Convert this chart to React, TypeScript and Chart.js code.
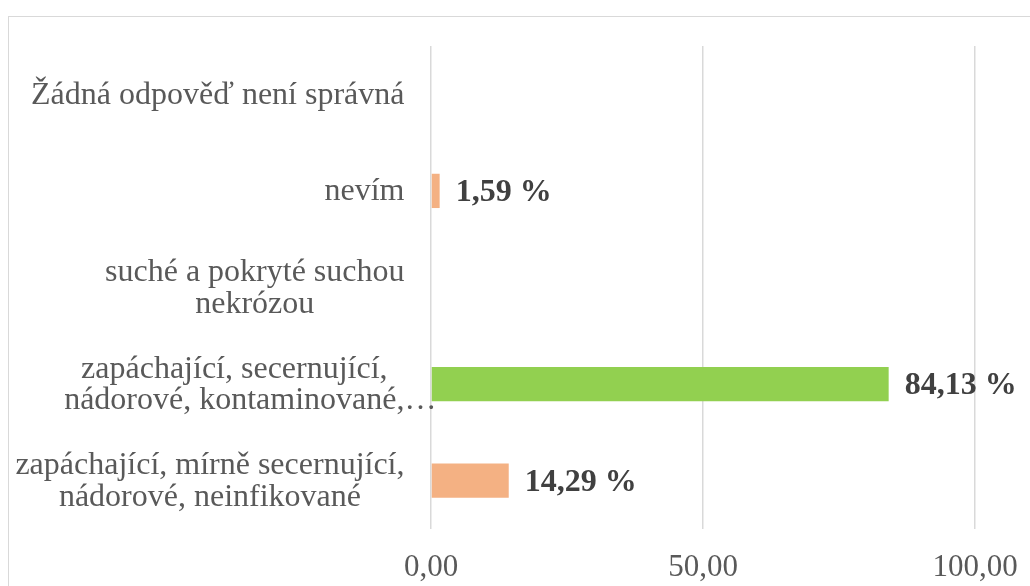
import React, { useEffect, useRef } from "react";
import { Chart, registerables } from "chart.js";

Chart.register(...registerables);

const categoryLines: string[][] = [
  ["Žádná odpověď není správná"],
  ["nevím"],
  ["suché a pokryté suchou", "nekrózou"],
  ["zapáchající, secernující,", "nádorové, kontaminované,…"],
  ["zapáchající, mírně secernující,", "nádorové, neinfikované"],
];
const categories: string[] = categoryLines.map((l) => l.join(" "));
const values: number[] = [0, 1.59, 0, 84.13, 14.29];
const barColors: string[] = ["#F4B183", "#F4B183", "#F4B183", "#92D050", "#F4B183"];
const xTicks: number[] = [0, 50, 100];

const FONT = "'Liberation Serif', 'Times New Roman', serif";
const fmt = (v: number) => v.toFixed(2).replace(".", ",");

const catLabelPlugin = {
  id: "catLabels",
  afterDraw(chart: any) {
    const ctx = chart.ctx;
    const ys = chart.scales.y;
    ctx.save();
    ctx.font = `32px ${FONT}`;
    ctx.fillStyle = "#595959";
    ctx.textBaseline = "middle";
    ctx.textAlign = "left";
    const lh = 31.5;
    const right = chart.chartArea.left - 26.5;
    categoryLines.forEach((lines, i) => {
      const cy = ys.getPixelForValue(i);
      const strip = (s: string) => s.replace(/…$/, "");
      const widths = lines.map((l) => ctx.measureText(strip(l)).width);
      const blockW = Math.max(...widths);
      const center = right - blockW / 2;
      const y0 = cy - ((lines.length - 1) * lh) / 2;
      lines.forEach((line, j) => {
        ctx.fillText(line, center - widths[j] / 2, y0 + j * lh + 1);
      });
    });
    ctx.restore();
  },
};

const valueLabelPlugin = {
  id: "valueLabels",
  afterDatasetsDraw(chart: any) {
    const ctx = chart.ctx;
    const meta = chart.getDatasetMeta(0);
    ctx.save();
    ctx.font = `bold 32px ${FONT}`;
    ctx.fillStyle = "#404040";
    ctx.textBaseline = "middle";
    ctx.textAlign = "left";
    meta.data.forEach((el: any, i: number) => {
      const v = values[i];
      if (!v) return;
      ctx.fillText(`${fmt(v)} %`, el.x + 16, el.y + 2);
    });
    ctx.restore();
  },
};

export default function App() {
  const ref = useRef<HTMLCanvasElement | null>(null);
  useEffect(() => {
    if (!ref.current) return;
    const chart = new Chart(ref.current, {
      type: "bar",
      data: {
        labels: categories,
        datasets: [
          {
            data: values,
            backgroundColor: barColors,
            borderWidth: 0,
            barPercentage: 0.355,
            categoryPercentage: 1,
          },
        ],
      },
      options: {
        indexAxis: "y",
        animation: false,
        responsive: false,
        devicePixelRatio: 1,
        layout: { padding: { top: 29, right: 55, left: 0, bottom: 0 } },
        plugins: { legend: { display: false }, tooltip: { enabled: false } },
        scales: {
          x: {
            min: xTicks[0],
            max: xTicks[xTicks.length - 1],
            afterBuildTicks: (scale: any) => {
              scale.ticks = xTicks.map((v) => ({ value: v }));
            },
            afterFit: (scale: any) => {
              scale.height = 57;
            },
            grid: {
              color: "#d9d9d9",
              lineWidth: 1.5,
              drawTicks: true,
              tickLength: 20,
              tickColor: "rgba(0,0,0,0)",
            },
            border: { display: false },
            ticks: {
              padding: 0,
              color: "#595959",
              font: { family: FONT, size: 31 },
              callback: (v: any) => fmt(Number(v)),
              maxRotation: 0,
            },
          },
          y: {
            grid: { display: false },
            border: { display: false },
            ticks: { display: false },
            afterFit: (scale: any) => {
              scale.width = 422;
            },
          },
        },
      },
      plugins: [catLabelPlugin, valueLabelPlugin],
    });
    return () => chart.destroy();
  }, []);

  return (
    <div
      style={{
        position: "fixed",
        left: 8,
        top: 16,
        width: 1021,
        height: 569,
        borderTop: "1px solid #d9d9d9",
        borderLeft: "1px solid #d9d9d9",
        overflow: "hidden",
      }}
    >
      <canvas ref={ref} width={1021} height={569} style={{ display: "block" }} />
    </div>
  );
}
